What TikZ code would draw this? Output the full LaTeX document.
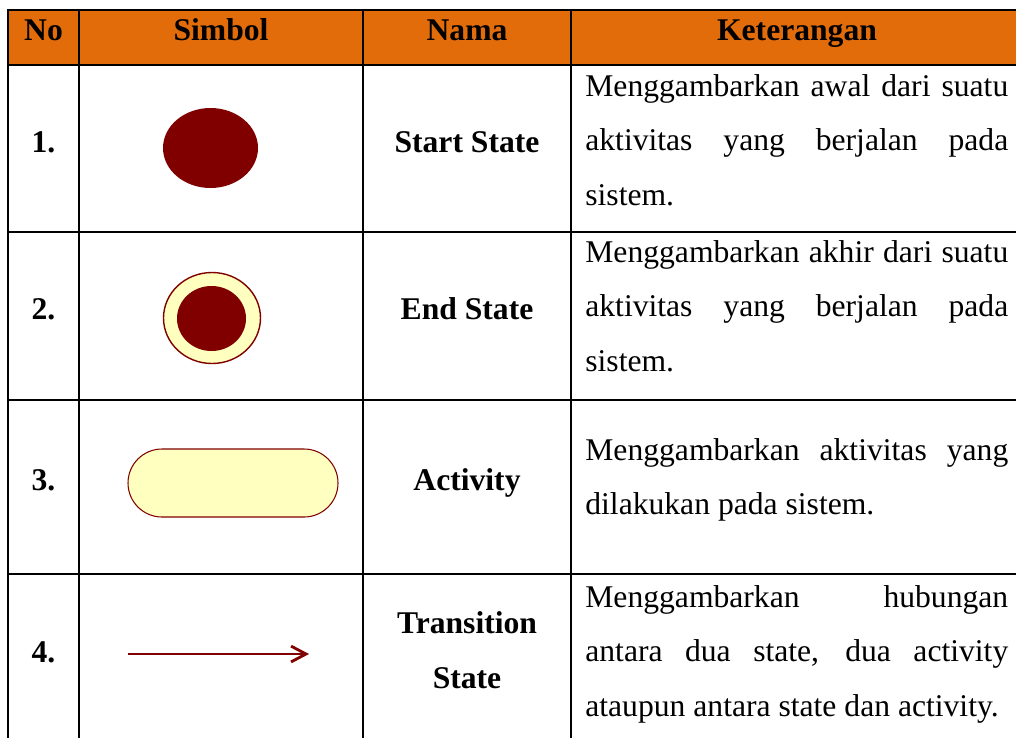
\documentclass[tikz,border=0pt]{standalone}
\usepackage{fontspec}
\setmainfont{Liberation Serif}
\usetikzlibrary{arrows.meta}

\definecolor{hdrorange}{RGB}{227,108,10}
\definecolor{umlred}{RGB}{128,0,0}
\definecolor{umlyellow}{RGB}{255,255,192}
\newcommand\cellfont{\fontsize{18pt}{31.2pt}\selectfont}

\begin{document}
\begin{tikzpicture}[x=0.02cm, y=-0.02cm, font=\cellfont,
    grid/.style={line width=1.5pt},
    head/.style={font=\cellfont\bfseries, anchor=base, inner sep=0pt},
    desc/.style={anchor=base west, text width=8.46cm, align=justify, inner sep=0pt}]
  \useasboundingbox (0,0) rectangle (1016,737);
  \clip (0,0) rectangle (1016,737);
  % header row
  \fill[hdrorange] (8,10) rectangle (1023,65);
  \node[head] (hNo)   at (43.5,40) {No};
  \node[head] (hSym)  at (221,40)  {Simbol};
  \node[head] (hName) at (467,40)  {Nama};
  \node[head] (hDesc) at (797,40)  {Keterangan};
  % grid
  \draw[grid] (8,10) rectangle (1023,760);
  \foreach \y in {65,232,400,574} \draw[grid] (8,\y) -- (1023,\y);
  \foreach \x in {79,363,571} \draw[grid] (\x,10) -- (\x,760);
  % 1. start state
  \node[head] (n1) at (43.5,152) {1.};
  \fill[umlred] (210.5,148) ellipse [x radius=47.5, y radius=40];
  \node[head] (name1) at (467,152) {Start State};
  \node[desc] (desc1) at (585,96)
    {Menggambarkan awal dari suatu\linebreak aktivitas yang berjalan pada\linebreak sistem.};
  % 2. end state
  \node[head] (n2) at (43.5,319) {2.};
  \filldraw[fill=umlyellow, draw=umlred, line width=0.8pt] (212,318) ellipse [x radius=48.5, y radius=45.5];
  \fill[umlred] (211.5,318.5) ellipse [x radius=34.5, y radius=32.5];
  \node[head] (name2) at (467,319) {End State};
  \node[desc] (desc2) at (585,262)
    {Menggambarkan akhir dari suatu\linebreak aktivitas yang berjalan pada\linebreak sistem.};
  % 3. activity
  \node[head] (n3) at (43.5,490) {3.};
  \filldraw[fill=umlyellow, draw=umlred, line width=0.6pt, rounded corners=0.68cm] (128,449) rectangle (338,517);
  \node[head] (name3) at (467,490) {Activity};
  \node[desc] (desc3) at (585,460)
    {Menggambarkan aktivitas yang\linebreak dilakukan pada sistem.};
  % 4. transition
  \node[head] (n4) at (43.5,662) {4.};
  \coordinate (trFrom) at (128,654);
  \coordinate (trTo)   at (309,654);
  \draw[umlred, line width=1.6pt, -{Straight Barb[length=8.5pt, width=9pt]}] (trFrom) -- (trTo);
  \node[head, align=center] (name4) at (467,688) {Transition\\State};
  \node[desc] (desc4) at (585,607)
    {Menggambarkan hubungan\linebreak antara dua state, dua activity\linebreak ataupun antara state dan activity.};
\end{tikzpicture}
\end{document}
